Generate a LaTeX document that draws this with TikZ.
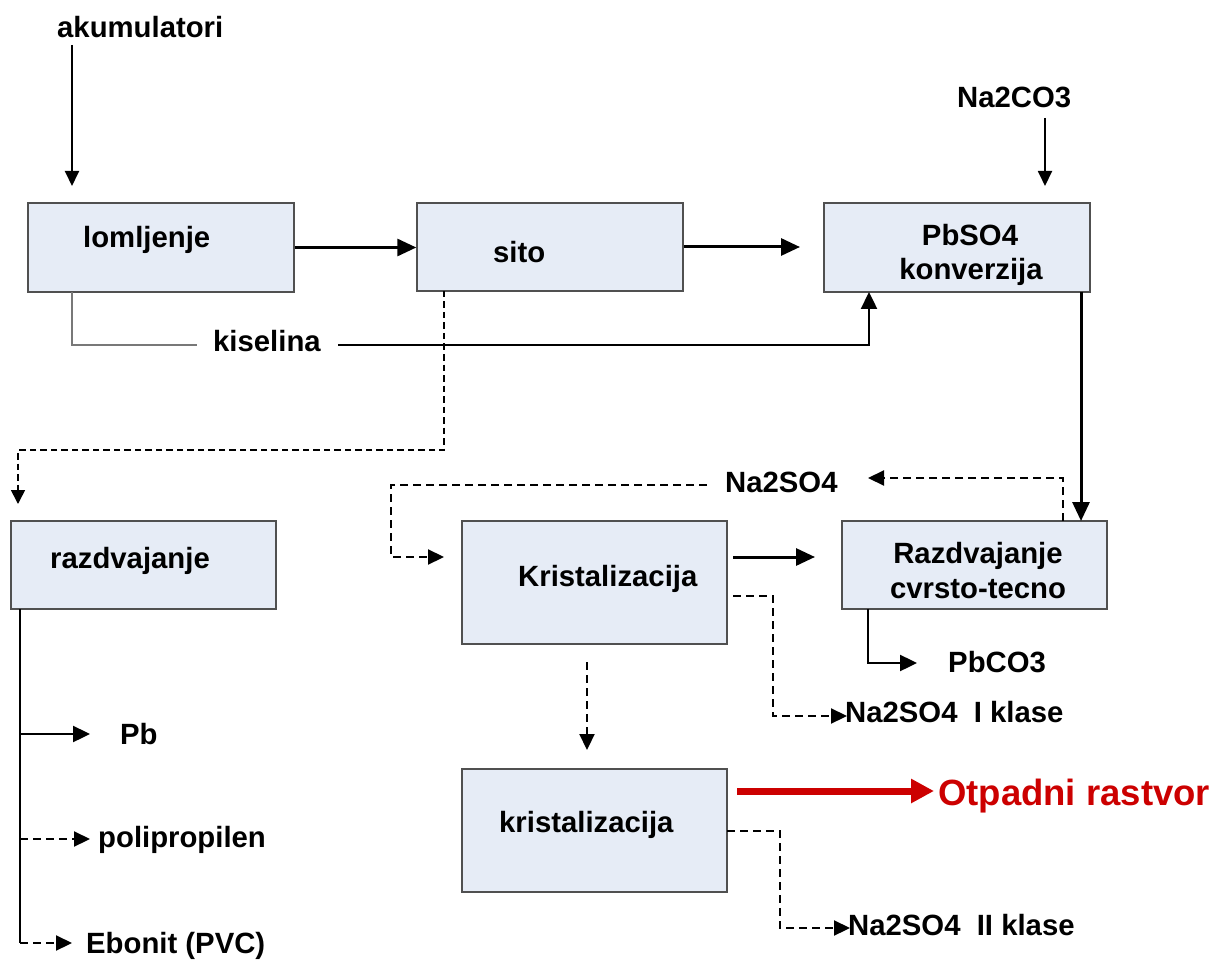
\documentclass[tikz,border=0pt]{standalone}
\usepackage{fontspec}
\setmainfont{Liberation Sans}
\usetikzlibrary{arrows.meta}
\definecolor{boxfill}{RGB}{230,236,246}
\definecolor{boxline}{RGB}{80,80,80}
\definecolor{acidgray}{RGB}{120,120,120}
\definecolor{wastered}{RGB}{204,0,0}
\newcommand{\lblfont}{\fontsize{29.3}{34}\selectfont\bfseries}

\begin{document}
\begin{tikzpicture}[x=1pt,y=-1pt,
  box/.style={draw=boxline, fill=boxfill, line width=1.4pt, inner sep=0pt},
  lbl/.style={anchor=base west, inner sep=0pt, font=\lblfont},
  lblc/.style={anchor=base, inner sep=0pt, font=\lblfont},
  flow/.style={line width=3pt, -{Triangle[length=19pt,width=17pt]}},
  feed/.style={line width=1.9pt, -{Triangle[length=15pt,width=14pt]}},
  mid/.style={line width=2.4pt, -{Triangle[length=17pt,width=16pt]}},
  side/.style={line width=2.2pt, dash pattern=on 8pt off 5pt, -{Triangle[length=16pt,width=15pt]}},
  finedash/.style={line width=1.7pt, dash pattern=on 6.5pt off 4pt, -{Triangle[length=14pt,width=14pt]}},
  acidline/.style={line width=1.4pt, draw=acidgray},
  waste/.style={line width=7pt, draw=wastered, -{Triangle[length=23pt,width=23pt]}, shorten >=-1pt}
]
\useasboundingbox (0,0) rectangle (1220,965);

% process boxes
\node[box, minimum width=266pt, minimum height=89pt] (lom)  at (161,247.5) {};
\node[box, minimum width=266pt, minimum height=88pt] (sito) at (550,247) {};
\node[box, minimum width=266pt, minimum height=89pt] (conv) at (957,247.5) {};
\node[box, minimum width=265pt, minimum height=88pt] (razd) at (143.5,565) {};
\node[box, minimum width=265pt, minimum height=123pt] (kr1) at (594.5,582.5) {};
\node[box, minimum width=265pt, minimum height=88pt] (sep)  at (974.5,565) {};
\node[box, minimum width=265pt, minimum height=123pt] (kr2) at (594.5,830.5) {};

% box captions
\node[lbl]  (tlom)   at (83,248)  {lomljenje};
\node[lbl]  (tsito)  at (493,263) {sito};
\node[lblc] (tconvA) at (970,246) {PbSO4};
\node[lblc] (tconvB) at (971,280) {konverzija};
\node[lbl]  (trazd)  at (50,568)  {razdvajanje};
\node[lbl]  (tkr1)   at (518,586) {Kristalizacija};
\node[lblc] (tsepA)  at (978,563) {Razdvajanje};
\node[lblc] (tsepB)  at (978,598) {cvrsto-tecno};
\node[lbl]  (tkr2)   at (499,832) {kristalizacija};

% streams
\node[lbl] (acc)  at (57,38)   {akumulatori};
\node[lbl] (naco) at (957,108) {Na2CO3};
\node[lbl] (acid) at (213,352) {kiselina};
\node[lbl] (naso) at (725,492) {Na2SO4};
\node[lbl] (pbco) at (948,672) {PbCO3};
\node[lbl] (nas1) at (845,722) {Na2SO4\ \ I klase};
\node[lbl] (pb)   at (120,744) {Pb};
\node[lbl] (pp)   at (98,847)  {polipropilen};
\node[lbl] (ebo)  at (86,953)  {Ebonit (PVC)};
\node[lbl] (nas2) at (848,935) {Na2SO4\ \ II klase};
\node[lbl, font=\fontsize{36.5}{40}\selectfont\bfseries, text=wastered] (waste) at (938,805) {Otpadni rastvor};

% connector end points
\coordinate (accTop)   at (72,45);
\coordinate (accTip)   at (72,186);
\coordinate (nacoTop)  at (1045,118);
\coordinate (nacoTip)  at (1045,186);
\coordinate (convIn)   at (800,247);
\coordinate (acidOut)  at (72,292);
\coordinate (acidL)    at (197,345);
\coordinate (acidR)    at (338,345);
\coordinate (acidIn)   at (869,292);
\coordinate (sitoOut)  at (444,291);
\coordinate (sitoBend) at (444,450);
\coordinate (razdIn)   at (18,504);
\coordinate (convOut)  at (1081,292);
\coordinate (sepIn)    at (1081,521);
\coordinate (sepTop)   at (1063,521);
\coordinate (nasoTip)  at (868,478);
\coordinate (nasoOut)  at (707,485);
\coordinate (loopBend) at (391,557);
\coordinate (kr1In)    at (444,557);
\coordinate (kr1Out)   at (733,557);
\coordinate (sepLeft)  at (815,557);
\coordinate (kr1Side)  at (733,596);
\coordinate (nas1Bend) at (773,716);
\coordinate (nas1Tip)  at (847,716);
\coordinate (kr1Low)   at (587,662);
\coordinate (kr2Tip)   at (587,750);
\coordinate (sepOut)   at (868,609);
\coordinate (pbcoTip)  at (917,663);
\coordinate (razdOut)  at (20,609);
\coordinate (pbJoin)   at (20,734);
\coordinate (pbTip)    at (90,734);
\coordinate (ppJoin)   at (20,839);
\coordinate (ppTip)    at (90,839);
\coordinate (eboJoin)  at (20,943);
\coordinate (eboTip)   at (72,943);
\coordinate (wasteOut) at (737,791);
\coordinate (wasteTip) at (933,791);
\coordinate (kr2Side)  at (727,831);
\coordinate (nas2Bend) at (780,928);
\coordinate (nas2Tip)  at (850,928);

% feeds
\draw[feed] (accTop) -- (accTip);
\draw[feed] (nacoTop) -- (nacoTip);

% main line
\draw[flow] (lom.east) -- (lom.east -| sito.west);
\draw[flow] (sito.east) -- (convIn);
\draw[flow] (convOut) -- (sepIn);
\draw[flow] (kr1Out) -- (sepLeft);

% acid bypass
\draw[acidline] (acidOut) |- (acidL);
\draw[mid] (acidR) -| (acidIn);

% screen residue to separation
\draw[finedash] (sitoOut) -- (sitoBend) -| (razdIn);

% sulfate liquor recycle
\draw[side] (sepTop) |- (nasoTip);
\draw[side] (nasoOut) -| (loopBend) -- (kr1In);

% crystallisation outputs
\draw[side] (kr1Side) -| (nas1Bend) -- (nas1Tip);
\draw[side] (kr1Low) -- (kr2Tip);
\draw[side] (kr2Side) -| (nas2Bend) -- (nas2Tip);
\draw[waste] (wasteOut) -- (wasteTip);

% lead carbonate
\draw[mid] (sepOut) |- (pbcoTip);

% separation products
\draw[line width=1.9pt] (razdOut) -- (eboJoin);
\draw[mid] (pbJoin) -- (pbTip);
\draw[side] (ppJoin) -- (ppTip);
\draw[side] (eboJoin) -- (eboTip);
\end{tikzpicture}
\end{document}
